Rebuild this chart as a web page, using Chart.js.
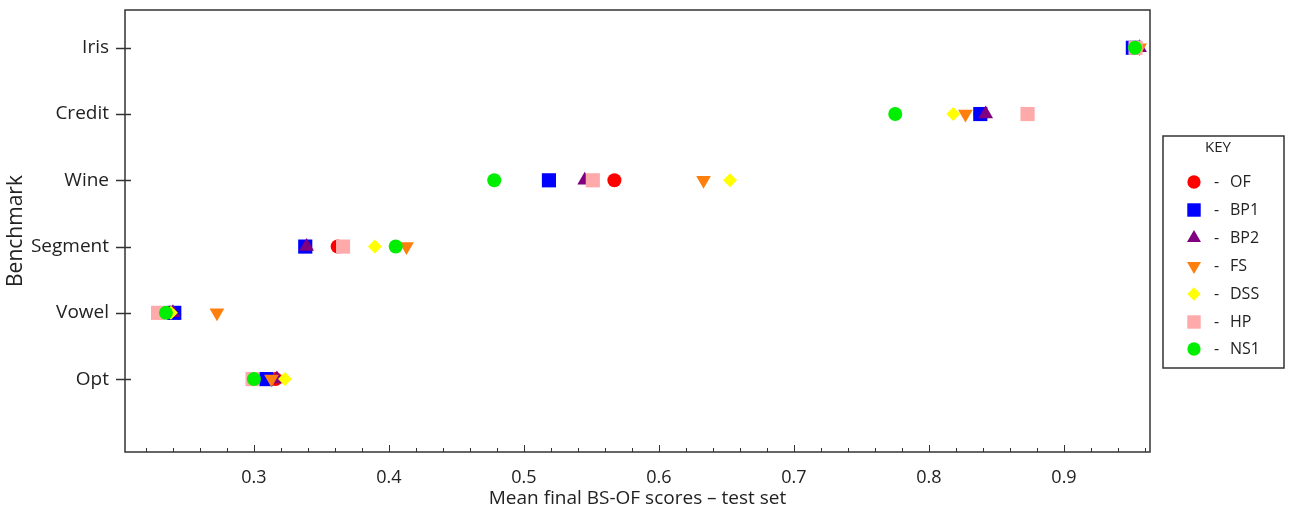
<!DOCTYPE html>
<html>
<head>
<meta charset="utf-8">
<script src="https://cdn.jsdelivr.net/npm/chart.js"></script>
<style>
  html, body { margin: 0; padding: 0; background: #fff; }
  #wrap { width: 1292px; height: 513px; }
</style>
</head>
<body>
<div id="wrap"><canvas id="c" width="1292" height="513"></canvas></div>
<script>
// ---------- DATA ----------
const benchmarks = ['Opt', 'Vowel', 'Segment', 'Wine', 'Credit', 'Iris']; // y = 1..6
const xTickLabels = ['0.3', '0.4', '0.5', '0.6', '0.7', '0.8', '0.9'];
const methods = ['OF', 'BP1', 'BP2', 'FS', 'DSS', 'HP', 'NS1'];
//            Opt    Vowel   Segment Wine    Credit  Iris
const OF  = [0.316, 0.238,  0.362,  0.567,  0.838,  0.953];
const BP1 = [0.309, 0.241,  0.338,  0.5185, 0.838,  0.951];
const BP2 = [0.317, 0.240,  0.339,  0.545,  0.842,  0.956];
const FS  = [0.313, 0.2726, 0.413,  0.633,  0.827,  0.956];
const DSS = [0.323, 0.2385, 0.3896, 0.6526, 0.818,  0.953];
const HP  = [0.299, 0.229,  0.366,  0.551,  0.873,  0.953];
const NS1 = [0.300, 0.2348, 0.405,  0.478,  0.775,  0.9526];
const seriesValues = [OF, BP1, BP2, FS, DSS, HP, NS1];

// ---------- STYLES ----------
const styles = [
  { color: '#ff0000', pointStyle: 'circle',   radius: 7,   rotation: 0 },
  { color: '#0000ff', pointStyle: 'rect',     radius: 10,  rotation: 0 },
  { color: '#800080', pointStyle: 'triangle', radius: 8.5, rotation: 0 },
  { color: '#ff7f0e', pointStyle: 'triangle', radius: 8.5, rotation: 180 },
  { color: '#ffff00', pointStyle: 'rectRot',  radius: 7,   rotation: 0 },
  { color: '#ffaaaa', pointStyle: 'rect',     radius: 10,  rotation: 0 },
  { color: '#00ee00', pointStyle: 'circle',   radius: 7,   rotation: 0 }
];

const FONT = '"Open Sans", "DejaVu Sans", sans-serif';
const TEXT = '#222';
const LINE = '#333';

const datasets = methods.map((m, i) => ({
  label: m,
  data: seriesValues[i].map((v, j) => ({ x: v, y: j + 1 })),
  pointStyle: styles[i].pointStyle,
  rotation: styles[i].rotation,
  pointRadius: styles[i].radius,
  pointHoverRadius: styles[i].radius,
  backgroundColor: styles[i].color,
  borderColor: styles[i].color,
  borderWidth: 0,
  showLine: false,
  order: 20 - i
}));

// manual shape drawing for the key
function shape(ctx, st, x, y) {
  const r = st.radius;
  ctx.beginPath();
  if (st.pointStyle === 'circle') {
    ctx.arc(x, y, r, 0, Math.PI * 2);
  } else if (st.pointStyle === 'rect') {
    const s = r * Math.SQRT1_2;
    ctx.rect(x - s, y - s, 2 * s, 2 * s);
  } else if (st.pointStyle === 'rectRot') {
    ctx.moveTo(x - r, y); ctx.lineTo(x, y - r); ctx.lineTo(x + r, y); ctx.lineTo(x, y + r);
    ctx.closePath();
  } else if (st.pointStyle === 'triangle') {
    let a = st.rotation * Math.PI / 180;
    ctx.moveTo(x + Math.sin(a) * r, y - Math.cos(a) * r);
    a += 2 * Math.PI / 3;
    ctx.lineTo(x + Math.sin(a) * r, y - Math.cos(a) * r);
    a += 2 * Math.PI / 3;
    ctx.lineTo(x + Math.sin(a) * r, y - Math.cos(a) * r);
    ctx.closePath();
  }
  ctx.fillStyle = st.color;
  ctx.fill();
}

const framePlugin = {
  id: 'frame',
  afterDraw(chart) {
    const ctx = chart.ctx;
    const a = chart.chartArea;
    const xs = chart.scales.x, ys = chart.scales.y;
    ctx.save();
    ctx.strokeStyle = LINE;
    ctx.lineWidth = 1.5;
    ctx.strokeRect(a.left, a.top, a.right - a.left, a.bottom - a.top);
    // x ticks (inward)
    ctx.lineWidth = 1;
    for (let k = 11; k <= 48; k++) {
      const v = k / 50;
      const px = Math.round(xs.getPixelForValue(v)) + 0.5;
      if (px <= a.left + 1 || px >= a.right - 1) continue;
      const major = (k % 5 === 0);
      ctx.beginPath();
      ctx.moveTo(px, a.bottom);
      ctx.lineTo(px, a.bottom - (major ? 7 : 4));
      ctx.stroke();
    }
    // y ticks (crossing)
    ctx.lineWidth = 1.5;
    benchmarks.forEach((b, j) => {
      const py = Math.round(ys.getPixelForValue(j + 1)) + 0.5;
      ctx.beginPath();
      ctx.moveTo(a.left - 9, py);
      ctx.lineTo(a.left + 6, py);
      ctx.stroke();
    });
    // key box
    const bx = 1163, by = 136, bw = 121, bh = 232;
    ctx.lineWidth = 1.5;
    ctx.strokeRect(bx, by, bw, bh);
    ctx.fillStyle = TEXT;
    ctx.font = '15px ' + FONT;
    ctx.textAlign = 'center';
    ctx.textBaseline = 'middle';
    ctx.fillText('KEY', 1218, 148);
    const itemY = [182, 210, 238, 266, 294, 322, 349];
    methods.forEach((m, i) => {
      const st = Object.assign({}, styles[i]);
      st.radius = st.radius * 0.95;
      shape(ctx, st, 1194, itemY[i]);
      ctx.fillStyle = TEXT;
      ctx.font = '16px ' + FONT;
      ctx.textAlign = 'left';
      ctx.fillText('-', 1214, itemY[i]);
      ctx.fillText(m, 1230, itemY[i]);
    });
    ctx.restore();
  }
};

new Chart(document.getElementById('c'), {
  type: 'scatter',
  data: { datasets },
  plugins: [framePlugin],
  options: {
    responsive: false,
    animation: false,
    layout: { padding: { top: 10, right: 142, left: 0, bottom: 0 } },
    plugins: { legend: { display: false }, tooltip: { enabled: false } },
    scales: {
      x: {
        type: 'linear',
        min: 0.2045,
        max: 0.9637,
        grid: { display: false, drawTicks: false },
        border: { display: false },
        afterBuildTicks: (s) => { s.ticks = xTickLabels.map(t => ({ value: parseFloat(t) })); },
        afterFit: (s) => { s.height = 61; s.paddingLeft = 0; s.paddingRight = 0; },
        ticks: {
          autoSkip: false,
          maxRotation: 0,
          padding: 15,
          color: TEXT,
          font: { family: FONT, size: 18 },
          callback: (v) => { const i = xTickLabels.findIndex(t => Math.abs(parseFloat(t) - v) < 1e-6); return i >= 0 ? xTickLabels[i] : ''; }
        },
        title: {
          display: true,
          text: 'Mean final BS-OF scores \u2013 test set',
          color: TEXT,
          font: { family: FONT, size: 19 },
          padding: { top: 0, bottom: 3 }
        }
      },
      y: {
        type: 'linear',
        min: -0.1,
        max: 6.57,
        grid: { display: false, drawTicks: false },
        border: { display: false },
        afterBuildTicks: (s) => { s.ticks = benchmarks.map((b, j) => ({ value: j + 1 })); },
        afterFit: (s) => { s.width = 125; s.paddingTop = 0; s.paddingBottom = 0; },
        ticks: {
          autoSkip: false,
          padding: 16,
          color: TEXT,
          font: { family: FONT, size: 19 },
          callback: (v) => benchmarks[Math.round(v) - 1] || ''
        },
        title: {
          display: true,
          text: 'Benchmark',
          color: TEXT,
          font: { family: FONT, size: 21 },
          padding: { top: 3, bottom: 0 }
        }
      }
    }
  }
});
</script>
</body>
</html>
